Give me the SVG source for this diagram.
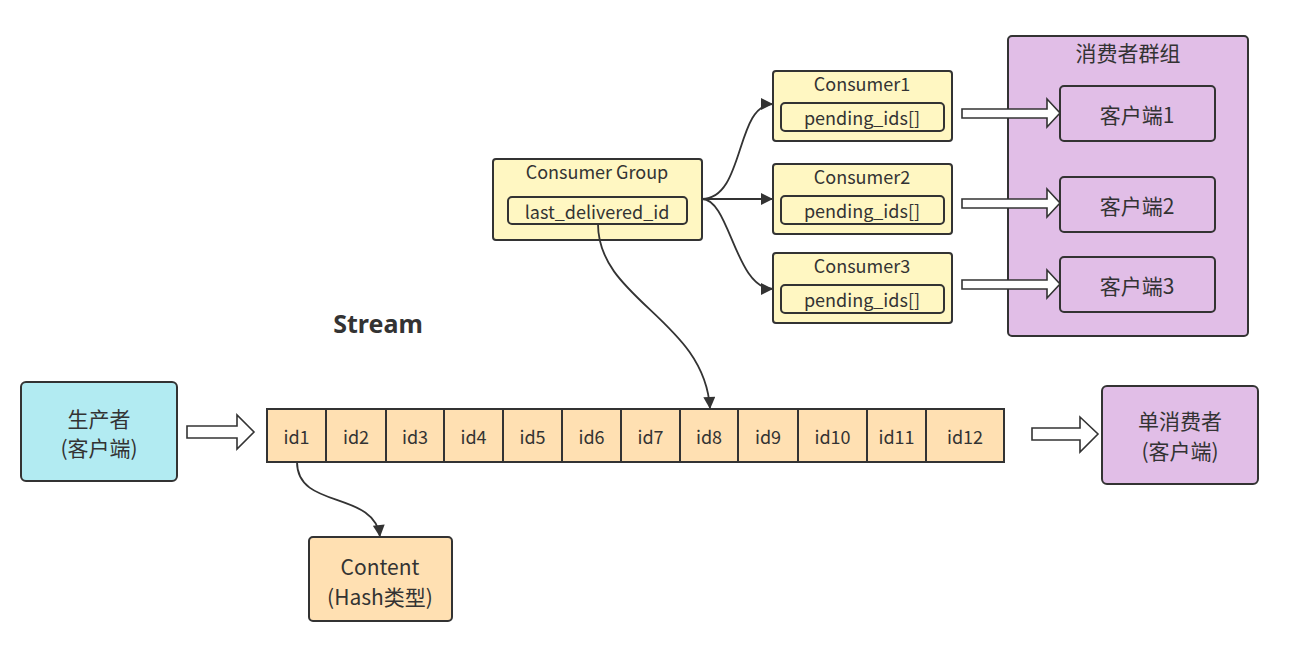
<svg xmlns="http://www.w3.org/2000/svg" width="1293" height="646" viewBox="0 0 1293 646">
<defs>
<style>
.t{font-family:"Noto Sans CJK SC","Liberation Sans",sans-serif;fill:#333;text-anchor:middle;dominant-baseline:central}
.box{stroke:#333;stroke-width:2}
.y{fill:#fff7c2}
.p{fill:#e1bee7}
.c{fill:#b2ebf2}
.o{fill:#ffe0b2}
.hollow{fill:#fff;stroke:#333;stroke-width:1.6;stroke-linejoin:miter}
.edge{fill:none;stroke:#333;stroke-width:1.8}
.cj{font-size:21px}
.id{font-size:18px}
.ct{font-size:18px}
.pd{font-size:18px}
</style>
<marker id="ah2" viewBox="0 0 10 10" refX="10" refY="5" markerWidth="17" markerHeight="12" markerUnits="userSpaceOnUse" orient="auto">
<path d="M0,0 L10,5 L0,10 Z" fill="#333"/>
</marker>
</defs>
<rect width="1293" height="646" fill="#fff"/>

<g id="consumer-group-container">
<rect class="box p" x="1008" y="36" width="240" height="300" rx="4"/>
<text class="t cj" x="1128" y="52">消费者群组</text>
</g>
<g id="client1"><rect class="box p" x="1060" y="86" width="155" height="55" rx="4"/><text class="t cj" x="1137" y="114">客户端1</text></g>
<g id="client2"><rect class="box p" x="1060" y="177" width="155" height="55" rx="4"/><text class="t cj" x="1137" y="205">客户端2</text></g>
<g id="client3"><rect class="box p" x="1060" y="257" width="155" height="55" rx="4"/><text class="t cj" x="1137" y="285">客户端3</text></g>

<g id="producer"><rect class="box c" x="21" y="382" width="156" height="99" rx="5"/>
<text class="t cj" x="99" y="418">生产者</text><text class="t cj" x="99" y="447">(客户端)</text></g>

<g id="single-consumer"><rect class="box p" x="1102" y="386" width="156" height="98" rx="5"/>
<text class="t cj" x="1180" y="420">单消费者</text><text class="t cj" x="1180" y="450">(客户端)</text></g>

<g id="content"><rect class="box o" x="309" y="537" width="143" height="84" rx="4"/>
<text class="t cj" x="380" y="566">Content</text><text class="t cj" x="380" y="596">(Hash类型)</text></g>

<g id="stream-label"><text x="378" y="323" font-family="Noto Sans, Liberation Sans, sans-serif" font-weight="bold" font-size="25" fill="#333" text-anchor="middle" dominant-baseline="central">Stream</text></g>

<g id="stream">
<rect class="box o" x="267" y="409" width="59" height="53"/><text class="t id" x="296.5" y="436">id1</text>
<rect class="box o" x="326" y="409" width="60" height="53"/><text class="t id" x="356" y="436">id2</text>
<rect class="box o" x="386" y="409" width="58" height="53"/><text class="t id" x="415" y="436">id3</text>
<rect class="box o" x="444" y="409" width="59" height="53"/><text class="t id" x="473.5" y="436">id4</text>
<rect class="box o" x="503" y="409" width="59" height="53"/><text class="t id" x="532.5" y="436">id5</text>
<rect class="box o" x="562" y="409" width="59" height="53"/><text class="t id" x="591.5" y="436">id6</text>
<rect class="box o" x="621" y="409" width="59" height="53"/><text class="t id" x="650.5" y="436">id7</text>
<rect class="box o" x="680" y="409" width="58" height="53"/><text class="t id" x="709" y="436">id8</text>
<rect class="box o" x="738" y="409" width="60" height="53"/><text class="t id" x="768" y="436">id9</text>
<rect class="box o" x="798" y="409" width="69" height="53"/><text class="t id" x="832.5" y="436">id10</text>
<rect class="box o" x="867" y="409" width="59" height="53"/><text class="t id" x="896.5" y="436">id11</text>
<rect class="box o" x="926" y="409" width="78" height="53"/><text class="t id" x="965" y="436">id12</text>
</g>

<g id="consumer-group"><rect class="box y" x="493" y="159" width="209" height="81" rx="3"/>
<text class="t ct" x="597" y="171">Consumer Group</text>
<rect class="box y" x="508" y="197" width="179" height="27" rx="4"/>
<text class="t pd" x="597" y="211">last_delivered_id</text></g>

<g id="consumer1"><rect class="box y" x="773" y="71" width="179" height="70" rx="3"/>
<text class="t ct" x="862" y="83">Consumer1</text>
<rect class="box y" x="781" y="103" width="163" height="28" rx="4"/>
<text class="t pd" x="862" y="117">pending_ids[]</text></g>
<g id="consumer2"><rect class="box y" x="773" y="164" width="179" height="70" rx="3"/>
<text class="t ct" x="862" y="176">Consumer2</text>
<rect class="box y" x="781" y="196" width="163" height="28" rx="4"/>
<text class="t pd" x="862" y="210">pending_ids[]</text></g>
<g id="consumer3"><rect class="box y" x="773" y="253" width="179" height="70" rx="3"/>
<text class="t ct" x="862" y="265">Consumer3</text>
<rect class="box y" x="781" y="285" width="163" height="28" rx="4"/>
<text class="t pd" x="862" y="299">pending_ids[]</text></g>

<g id="connectors">
<path class="edge" d="M702,199 C745,199 735,104 773,104" marker-end="url(#ah2)"/>
<path class="edge" d="M702,199 L773,199" marker-end="url(#ah2)"/>
<path class="edge" d="M702,199 C730,199 735,289 773,289" marker-end="url(#ah2)"/>
<path class="edge" d="M598,224 C598,300 705,320 710,409" marker-end="url(#ah2)"/>
<path class="edge" d="M297,462 C297,510 375,490 380,537" marker-end="url(#ah2)"/>
<polygon class="hollow" points="187,426 237,426 237,415 254,432 237,449 237,438 187,438"/>
<polygon class="hollow" points="1032,428 1080,428 1080,417 1098,434 1080,452 1080,440 1032,440"/>
<polygon class="hollow" points="962,109 1047,109 1047,99 1060,113 1047,127 1047,118 962,118"/>
<polygon class="hollow" points="962,199 1047,199 1047,189 1060,203 1047,217 1047,208 962,208"/>
<polygon class="hollow" points="962,280 1047,280 1047,270 1060,284 1047,298 1047,289 962,289"/>
</g>
</svg>
